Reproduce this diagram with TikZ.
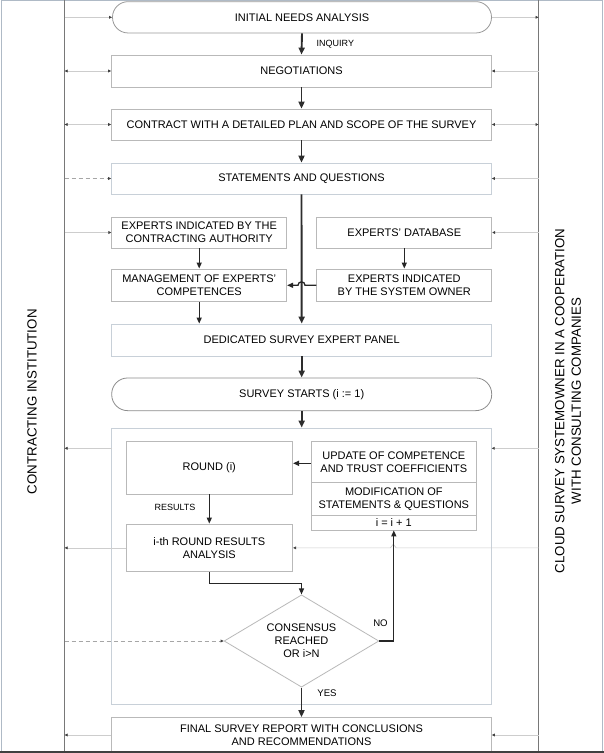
\documentclass[tikz,border=0pt]{standalone}
\usepackage{fontspec}
\setmainfont{Liberation Sans}
\usetikzlibrary{shapes.geometric,arrows.meta,calc}
\definecolor{boxgray}{RGB}{185,185,185}
\definecolor{boxblue}{RGB}{200,208,216}
\definecolor{sidegray}{RGB}{205,205,205}
\definecolor{lanegray}{RGB}{120,120,120}
\definecolor{flowdark}{RGB}{45,45,45}
\definecolor{framecol}{RGB}{175,186,198}
\tikzset{
  txt/.style={font=\fontsize{11}{13}\selectfont},
  box/.style={draw=boxgray, fill=white, line width=0.8pt, inner sep=1pt, align=center, txt},
  bluebox/.style={box, draw=boxblue},
  stadium/.style={box, draw=gray!80, rounded corners=15.5pt},
  lbl/.style={font=\fontsize{9}{11}\selectfont, inner sep=0pt},
  flow/.style={draw=flowdark, line width=1.9pt, -{Triangle[length=7pt,width=6pt]}},
  flowthin/.style={draw=black!85, line width=1.3pt, -{Triangle[length=6pt,width=5pt]}},
  sidetip/.tip={Triangle[length=3pt,width=2.8pt,color=black!75]},
  side/.style={draw=sidegray, line width=0.7pt, -sidetip},
  sideboth/.style={draw=sidegray, line width=0.7pt, sidetip-sidetip},
  sidedash/.style={draw=gray!70, line width=0.7pt, dashed, dash pattern=on 4pt off 3pt, -sidetip},
  lane/.style={draw=lanegray, line width=0.8pt},
  title/.style={font=\fontsize{13.3}{16.5}\selectfont, rotate=90, align=center, inner sep=0pt}
}
\begin{document}
\begin{tikzpicture}[x=1pt,y=-1pt]
\useasboundingbox (0,0) rectangle (604,753);
% outer frame
\draw[framecol, line width=0.8pt] (1.7,0.6) rectangle (601.9,752);
% lanes
\coordinate (LT) at (64.6,0);
\coordinate (LB) at (64.6,752);
\coordinate (RT) at (538.5,0);
\coordinate (RB) at (538.5,752);
\draw[lane] (LT) -- (LB);
\draw[lane] (RT) -- (RB);
\node[title] (tl) at (32,401.7) {CONTRACTING INSTITUTION};
\node[title] (tr) at (568,401) {CLOUD SURVEY SYSTEMOWNER IN A COOPERATION\\WITH CONSULTING COMPANIES};

% main column
\node[stadium, minimum width=379, minimum height=31.3] (init) at (302,17.3) {INITIAL NEEDS ANALYSIS};
\node[box, minimum width=380, minimum height=32] (neg) at (301.5,71) {NEGOTIATIONS};
\node[box, minimum width=380, minimum height=31] (contract) at (301.5,124.5) {CONTRACT WITH A DETAILED PLAN AND SCOPE OF THE SURVEY};
\node[bluebox, minimum width=380, minimum height=31] (stmt) at (301.5,178.5) {STATEMENTS AND QUESTIONS};
\node[box, minimum width=175, minimum height=31] (expca) at (199.2,232.5) {EXPERTS INDICATED BY THE\\CONTRACTING AUTHORITY};
\node[box, minimum width=175, minimum height=31] (db) at (404.3,232.5) {EXPERTS' DATABASE};
\node[box, minimum width=175, minimum height=32.7] (mgmt) at (199.2,285.3) {MANAGEMENT OF EXPERTS'\\COMPETENCES};
\node[box, minimum width=175, minimum height=32.7] (sysown) at (404.3,285.3) {EXPERTS INDICATED\\BY THE SYSTEM OWNER};
\node[bluebox, minimum width=380, minimum height=32] (panel) at (301.7,340) {DEDICATED SURVEY EXPERT PANEL};
\node[stadium, draw=gray!90, minimum width=380, minimum height=32.7, rounded corners=16pt] (start) at (301.7,394.3) {SURVEY STARTS (i := 1)};

% loop container
\node[draw=boxblue, fill=white, line width=0.8pt, minimum width=380, minimum height=276, inner sep=0pt] (cont) at (301.7,566) {};
\node[box, minimum width=166.7, minimum height=52.3] (round) at (209.3,467.8) {ROUND (i)};
\node[box, minimum width=165.7, minimum height=40.6] (upd1) at (393.8,462) {UPDATE OF COMPETENCE\\AND TRUST COEFFICIENTS};
\node[box, minimum width=165.7, minimum height=33.4] (upd2) at (393.8,499) {MODIFICATION OF\\STATEMENTS \& QUESTIONS};
\node[box, minimum width=165.7, minimum height=14.3, inner sep=0pt] (upd3) at (393.8,522.85) {i = i + 1};
\node[box, minimum width=166.7, minimum height=47.7] (analysis) at (209.3,547.85) {i-th ROUND RESULTS\\ANALYSIS};
\node[diamond, draw=boxgray, fill=white, line width=0.8pt, aspect=1.68, inner sep=0pt, minimum width=154.8, minimum height=92.3, align=center, txt] (dia) at (301.5,641) {CONSENSUS\\REACHED\\OR i>N};
\node[box, minimum width=380, minimum height=35] (final) at (301.5,735) {FINAL SURVEY REPORT WITH CONCLUSIONS\\AND RECOMMENDATIONS};

% side connectors
\draw[side] (LT |- init.west) -- (init.west);
\draw[side] (init.east) -- (RT |- init.east);
\draw[sideboth] (LT |- neg.west) -- (neg.west);
\draw[side] (RT |- neg.east) -- (neg.east);
\draw[sideboth] (LT |- contract.west) -- (contract.west);
\draw[sideboth] (RT |- contract.east) -- (contract.east);
\draw[sidedash] (LT |- stmt.west) -- (stmt.west);
\draw[side] (RT |- stmt.east) -- (stmt.east);
\draw[side] (LT |- expca.west) -- (expca.west);
\draw[side] (RT |- db.east) -- (db.east);
\coordinate (contL) at (111.7,448.3);
\coordinate (contR) at (491.7,448.3);
\draw[side] (contL) -- (LT |- contL);
\draw[side] (RT |- contR) -- (contR);
\draw[side] (analysis.west) -- (LT |- analysis.west);
\draw[side] (RT |- analysis.east) -- (396.2,547.85) -- (393.3,544.2) -- (390.4,547.85) -- (analysis.east);
\draw[sidedash] (LT |- dia.west) -- (dia.west);
\draw[side] (final.west) -- (LT |- final.west);
\draw[side] (RT |- final.east) -- (final.east);

% main flow
\draw[flow] (init.south) -- (neg.north) node[lbl, pos=0.5, anchor=west, xshift=14pt] (inq) {INQUIRY};
\draw[flow] (neg.south) -- (contract.north);
\draw[flow] (contract.south) -- (stmt.north);
\draw[flow] (stmt.south) -- (panel.north);
\draw[flowthin] (expca.south) -- (mgmt.north);
\draw[flowthin] (db.south) -- (sysown.north);
\draw[flowthin] (mgmt.south) -- (mgmt.south |- panel.north);
\draw[flowthin] (sysown.west) -- (305,285.3) arc[start angle=0, end angle=180, radius=3.5pt] -- (mgmt.east);
\draw[flow] (panel.south) -- (start.north);
\draw[flow] (start.south) -- (cont.north);
\draw[flowthin] (upd1.west |- 0,463.3) -- (round.east |- 0,463.3);
\draw[flowthin] (round.south) -- (analysis.north);
\node[lbl] (res) at (175,507.7) {RESULTS};
\draw[flowthin] (analysis.south) -- ++(0,11.5) -| (dia.north);
\draw[flowthin] (dia.east) -| (upd3.south);
\node[lbl, font=\fontsize{9.6}{11}\selectfont] (no) at (380.5,623) {NO};
\draw[flow] (dia.south) -- (final.north);
\node[lbl, font=\fontsize{9.6}{11}\selectfont] (yes) at (327,693) {YES};

% bottom edge
\draw[black!75, line width=1.4pt] (0,752) -- (604,752);
\end{tikzpicture}
\end{document}
